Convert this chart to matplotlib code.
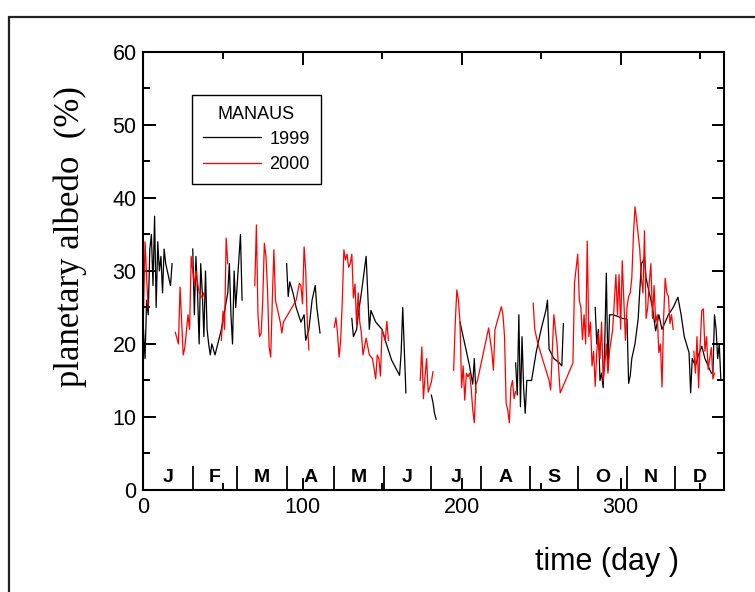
import numpy as np
import matplotlib
matplotlib.use("Agg")
import matplotlib.pyplot as plt
from matplotlib.patches import Rectangle

nan = np.nan

# ---- data: 1999 (black) ----
day_1999 = [0, 1, 2, 3, 4, 5, 6, 7, 8, 9, 10, 11, 12, 13, 14, 15, 16, 17, 18, 18.5,
            31, 32, 33, 34, 35, 36, 37, 38, 39, 40, 41, 42, 43, 45, 49, 53, 54, 55, 56, 57, 58, 61, 62, 62.5,
            90, 91, 92, 94, 96, 99, 101, 102, 104, 106, 108, 109, 111, 111.5,
            131, 132, 134, 135, 137, 140, 141, 142, 143, 146, 150, 152, 156, 161, 162, 163, 164, 165, 165.5,
            181, 182, 183, 184, 184.5,
            199, 201, 203, 205, 207, 208, 209, 209.5,
            234, 235, 236, 237, 238, 239, 240, 241, 242, 244, 247, 250, 253, 254, 255, 258, 261, 263, 264, 264.5,
            284, 285, 286, 287, 288, 289, 290, 291, 292, 293, 295, 298, 301, 304, 305, 306, 307, 309, 311,
            313, 314, 315, 316, 318, 320, 322, 324, 326, 330, 333, 336, 338, 340, 343, 344, 345, 347, 349,
            351, 353, 355, 357, 358, 359, 360, 361, 362, 363]
alb_1999 = [22, 18, 26, 24, 33, 35, 28, 37.5, 25, 34, 30, 32, 27, 33, 31, 30, 29, 28, 31, nan,
            33, 24, 32, 27, 20, 31, 27, 21, 30, 22, 20, 18.5, 20, 18.5, 22, 27, 31, 24, 20, 30, 25, 35, 26, nan,
            31, 26.5, 28.5, 27, 25, 23, 24, 20.5, 22, 26, 28, 25, 21.5, nan,
            23.5, 21, 22, 24, 27, 32, 27, 22, 24.6, 23, 22, 20.5, 17.8, 15.7, 18.8, 25, 19, 13.3, nan,
            13, 12, 10.5, 9.7, nan,
            23, 21, 19, 17, 14.5, 18, 13.3, nan,
            17.4, 13, 24, 11.4, 21, 14, 10.5, 15, 15, 15, 19, 22, 24.6, 26, 19.3, 18, 17.5, 17, 22.8, nan,
            25, 20, 22, 15, 16, 14, 20, 29.7, 16.4, 24, 24, 23.8, 23.5, 23.4, 14.6, 15.6, 18, 20, 23.4,
            31, 31.3, 32, 29, 27, 25, 21.8, 24, 22, 24, 25, 26.4, 24, 21, 18.8, 13.3, 18, 17, 18.5,
            19.7, 18, 17, 16, 16, 24, 22, 18, 20, 15]

# ---- data: 2000 (red) ----
day_2000 = [0, 1, 2, 3, 3.5,
            20, 22, 23, 24, 25, 26, 28, 29, 30, 31, 32, 33, 35, 37, 38, 38.5,
            49, 50, 51, 52, 53, 53.5,
            70, 71, 72, 73, 74, 75, 76, 77, 78, 79, 80, 81, 82, 83, 84, 85, 86, 87, 88, 96, 98, 99, 100,
            101, 102, 103, 104, 104.5,
            120, 121, 122, 123, 124, 125, 126, 127, 128, 129, 130, 131, 132, 133, 134, 135, 136, 137, 138,
            140, 142, 144, 146, 147, 148, 149, 150, 151, 152, 153, 154, 154.5,
            174, 175, 176, 177, 178, 179, 181, 182, 182.5,
            195, 196, 197, 198, 199, 200, 201, 202, 203, 204, 205, 206, 207, 208, 209, 210, 217, 218, 219,
            220, 221, 225, 226, 227, 228, 229, 230, 231, 232, 233, 234, 234.5,
            245, 246, 247, 248, 255, 256, 258, 259, 260, 262, 270, 271, 273, 274, 275, 276, 277, 278, 279,
            280, 281, 282, 283, 284, 285, 286, 287, 288, 289, 290, 291, 292, 293, 295, 297, 298, 299, 300,
            301, 302, 303, 304, 305, 306, 307, 308, 309, 310, 311, 312, 313, 314, 315, 316, 317, 318, 319,
            320, 321, 322, 323, 324, 325, 326, 327, 328, 329, 330, 331, 332, 333, 333.5,
            346, 347, 348, 349, 350, 351, 352, 353, 354, 355, 356, 357, 358, 359]
alb_2000 = [24, 34, 29, 25, nan,
            21.6, 20, 27.8, 23, 18.5, 19.5, 24, 22, 32, 30, 28, 30, 27, 26.3, 27, nan,
            20.5, 24.5, 22, 34.5, 31, nan,
            28, 36.3, 24, 21, 21.5, 26, 33.8, 32, 27.5, 19.6, 18.2, 26, 32.9, 26, 25, 24, 23, 21.5, 23, 26, 28.3, 28, 25.5,
            33.3, 30, 23, 19.2, nan,
            22.3, 23.6, 21.5, 18.2, 20.5, 25.9, 32.9, 31.5, 32.3, 30.5, 31, 32.3, 26.3, 28.2, 22.6, 27, 23, 21.5, 18.5,
            20.8, 18.5, 18, 15.2, 18.5, 18, 15.6, 21.8, 21.3, 20.5, 23.1, 20.5, nan,
            15, 19.6, 12.5, 15.5, 18, 13.4, 14.8, 16.2, nan,
            16.4, 22.8, 27.4, 26, 23, 14, 17, 12.3, 16, 15.5, 16, 14, 11, 9.2, 14.5, 15, 22.2, 20.5, 19,
            16.4, 22, 25.1, 24, 21, 11.9, 11, 9.2, 14, 15, 12.5, 13.5, nan,
            25.6, 22, 21, 20, 15, 13.7, 24, 22, 20, 13.3, 17.4, 28.4, 32.3, 26, 25, 20.6, 24, 20, 34.1,
            21, 23, 17, 19, 14.2, 19, 21.5, 18, 23, 15, 17, 20, 16, 19, 22, 29.5, 24, 29.5, 22,
            31.4, 26, 20.5, 25, 26.5, 27, 29, 34.7, 38.8, 37, 35, 33, 29, 27, 35.5, 23.5, 25, 28.5, 31,
            23.5, 28, 23, 24, 18.8, 20, 14.1, 23.5, 29, 27, 26.5, 22.8, 24, 22, nan,
            19, 16, 21, 14, 20, 24.6, 24.8, 19, 21, 16.5, 18, 19.5, 15.2, 16]

month_labels = ["J", "F", "M", "A", "M", "J", "J", "A", "S", "O", "N", "D"]
month_starts = [0, 31, 59, 90, 120, 151, 181, 212, 243, 273, 304, 334, 365]

fig = plt.figure(figsize=(7.55, 5.92), dpi=100)
ax = fig.add_axes([0.190, 0.1723, 0.769, 0.740])

ax.plot(day_1999, alb_1999, color="black", lw=0.9, label="1999")
ax.plot(day_2000, alb_2000, color="red", lw=0.9, label="2000")

ax.set_xlim(0, 365)
ax.set_ylim(0, 60)

# month dividers and letters
for b in month_starts[1:-1]:
    ax.plot([b, b], [0, 3.3], color="black", lw=1.3, solid_capstyle="butt")
for i, m in enumerate(month_labels):
    c = 0.5 * (month_starts[i] + month_starts[i + 1])
    ax.text(c, 1.7, m, ha="center", va="center", fontsize=14, fontweight="bold",
            family=["Liberation Sans Narrow", "Liberation Sans"])

tickfont = ["Liberation Sans Narrow", "Liberation Sans"]
ax.set_xticks([0, 100, 200, 300])
ax.set_xticks([50, 150, 250, 350], minor=True)
ax.set_yticks([0, 10, 20, 30, 40, 50, 60])
ax.set_yticks([5, 15, 25, 35, 45, 55], minor=True)
ax.tick_params(which="both", direction="in", top=True, right=True, width=1.4, colors="black")
ax.tick_params(which="major", length=9, labelsize=15.5, pad=5)
ax.tick_params(which="minor", length=5)
for lab in ax.get_xticklabels() + ax.get_yticklabels():
    lab.set_family(tickfont)
for s in ax.spines.values():
    s.set_linewidth(1.5)

ax.set_ylabel("planetary albedo  (%)", family=["Liberation Serif", "DejaVu Serif"],
              fontsize=25)
ax.yaxis.set_label_coords(-0.098, 0.578)
fig.text(0.804, 0.050, "time (day )", ha="center", va="center", fontsize=22,
         family=["Liberation Sans", "DejaVu Sans"])

leg = ax.legend(title="MANAUS", loc="upper left", bbox_to_anchor=(0.0835, 0.902),
                fancybox=False, edgecolor="black", framealpha=1, fontsize=13,
                title_fontsize=13, handlelength=3.2, borderpad=0.6, labelspacing=0.45,
                handletextpad=0.5, borderaxespad=0)
leg.get_frame().set_linewidth(1.0)
for t in leg.get_texts() + [leg.get_title()]:
    t.set_family(["Liberation Sans", "DejaVu Sans"])

# outer frame
fig.patches.append(Rectangle((0.012, -0.1), 1.2, 1.071, transform=fig.transFigure,
                             fill=False, edgecolor="#222222", lw=1.6))

fig.savefig("out.png", dpi=100)
